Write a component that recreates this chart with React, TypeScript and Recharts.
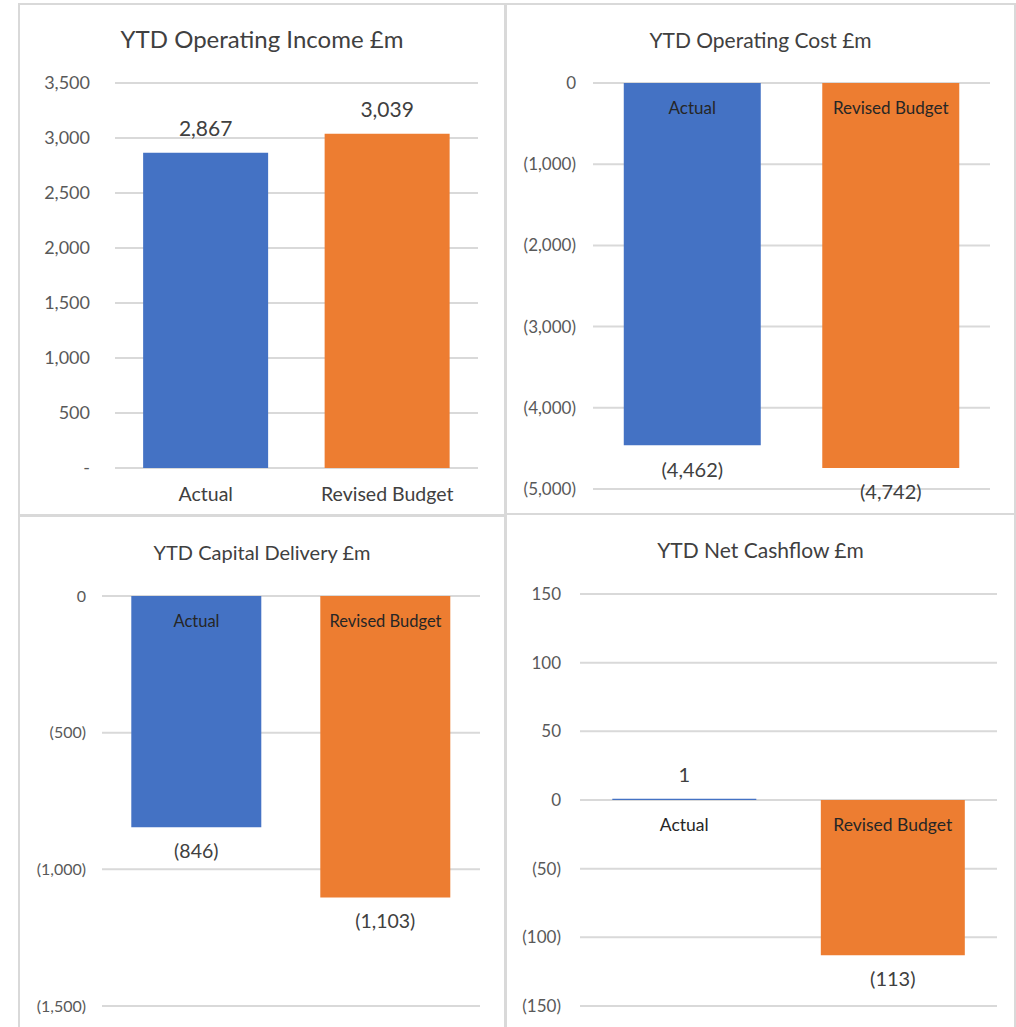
import { BarChart, Bar, XAxis, YAxis, CartesianGrid, Cell, LabelList, ReferenceDot } from "recharts";

const categories = ["Actual", "Revised Budget"];
const incomeValues = [2867, 3039];
const costValues = [-4462, -4742];
const capitalValues = [-846, -1103];
const cashflowValues = [1, -113];

const incomeTicks = [0, 500, 1000, 1500, 2000, 2500, 3000, 3500];
const costTicks = [-5000, -4000, -3000, -2000, -1000, 0];
const capitalTicks = [-1500, -1000, -500, 0];
const cashflowTicks = [-150, -100, -50, 0, 50, 100, 150];

const colors = ["#4472C4", "#ED7D31"];
const FONT = "Lato, 'Open Sans', sans-serif";

const fmt = (v: number, zero = "0") => {
  if (v === 0) return zero;
  const s = Math.abs(v).toLocaleString("en-GB");
  return v < 0 ? `(${s})` : s;
};

interface PanelProps {
  title: string;
  titleFont: number;
  values: number[];
  ticks: number[];
  zeroLabel: string;
  box: { left: number; top: number; width: number; height: number };
  margin: { top: number; right: number; bottom: number; left: number };
  yWidth: number;
  tickGap: number;
  tickFont: number;
  catFont: number;
  catColor: string;
  labelFont: number;
}

function Panel(p: PanelProps) {
  const data = categories.map((c, i) => ({ name: c, value: p.values[i] }));
  return (
    <div
      style={{
        position: "absolute",
        left: p.box.left,
        top: p.box.top,
        width: p.box.width,
        height: p.box.height,
        border: "2px solid #d9d9d9",
        boxSizing: "border-box",
        background: "#fff",
      }}
    >
      <div
        style={{
          position: "absolute",
          top: 36 - p.titleFont * 0.65,
          left: 0,
          width: "100%",
          textAlign: "center",
          fontSize: p.titleFont,
          lineHeight: 1.2,
          color: "#404040",
          fontFamily: FONT,
        }}
      >
        {p.title}
      </div>
      <div style={{ position: "absolute", left: -2, top: -2 }}>
        <BarChart width={p.box.width} height={p.box.height} data={data} margin={p.margin} barCategoryGap="15.5%">
          <CartesianGrid vertical={false} stroke="#d9d9d9" strokeWidth={2} />
          <XAxis dataKey="name" hide />
          <YAxis
            domain={[p.ticks[0], p.ticks[p.ticks.length - 1]]}
            ticks={p.ticks}
            width={p.yWidth}
            axisLine={false}
            tickLine={false}
            tickMargin={p.tickGap - 6}
            tick={{ fill: "#595959", fontSize: p.tickFont, fontFamily: FONT }}
            tickFormatter={(v: number) => fmt(v, p.zeroLabel)}
            interval={0}
          />
          <Bar dataKey="value" isAnimationActive={false}>
            {data.map((d, i) => (
              <Cell key={d.name} fill={colors[i]} />
            ))}
            <LabelList
              dataKey="value"
              position="top"
              offset={17}
              formatter={(v: number) => fmt(v)}
              style={{ fill: "#404040", fontSize: p.labelFont, fontFamily: FONT }}
            />
          </Bar>
          {categories.map((c) => (
            <ReferenceDot
              key={c}
              x={c}
              y={0}
              r={0}
              fill="none"
              stroke="none"
              label={{ value: c, position: "bottom", offset: 19, fill: p.catColor, fontSize: p.catFont, fontFamily: FONT }}
            />
          ))}
        </BarChart>
      </div>
    </div>
  );
}

export default function App() {
  return (
    <div style={{ position: "absolute", left: 0, top: 0, width: 1016, height: 1027, background: "#fff", overflow: "hidden" }}>
      <Panel
        title="YTD Operating Income £m"
        titleFont={24}
        values={incomeValues}
        ticks={incomeTicks}
        zeroLabel="-"
        box={{ left: 18, top: 3, width: 488, height: 513 }}
        margin={{ top: 80, right: 28, bottom: 48, left: 37 }}
        yWidth={60}
        tickGap={25}
        tickFont={18}
        catFont={19.5}
        catColor="#404040"
        labelFont={21}
      />
      <Panel
        title="YTD Operating Cost £m"
        titleFont={21}
        values={costValues}
        ticks={costTicks}
        zeroLabel="0"
        box={{ left: 505, top: 3, width: 511, height: 512 }}
        margin={{ top: 80, right: 26, bottom: 26, left: 28 }}
        yWidth={60}
        tickGap={17}
        tickFont={17}
        catFont={17}
        catColor="#262626"
        labelFont={20}
      />
      <Panel
        title="YTD Capital Delivery £m"
        titleFont={20}
        values={capitalValues}
        ticks={capitalTicks}
        zeroLabel="0"
        box={{ left: 18, top: 515, width: 488, height: 516 }}
        margin={{ top: 81, right: 26, bottom: 25, left: 24 }}
        yWidth={60}
        tickGap={16}
        tickFont={16}
        catFont={16.5}
        catColor="#262626"
        labelFont={19.5}
      />
      <Panel
        title="YTD Net Cashflow £m"
        titleFont={21}
        values={cashflowValues}
        ticks={cashflowTicks}
        zeroLabel="0"
        box={{ left: 505, top: 513, width: 511, height: 518 }}
        margin={{ top: 81, right: 19, bottom: 25, left: 15 }}
        yWidth={60}
        tickGap={19}
        tickFont={17}
        catFont={17.5}
        catColor="#262626"
        labelFont={20}
      />
    </div>
  );
}
